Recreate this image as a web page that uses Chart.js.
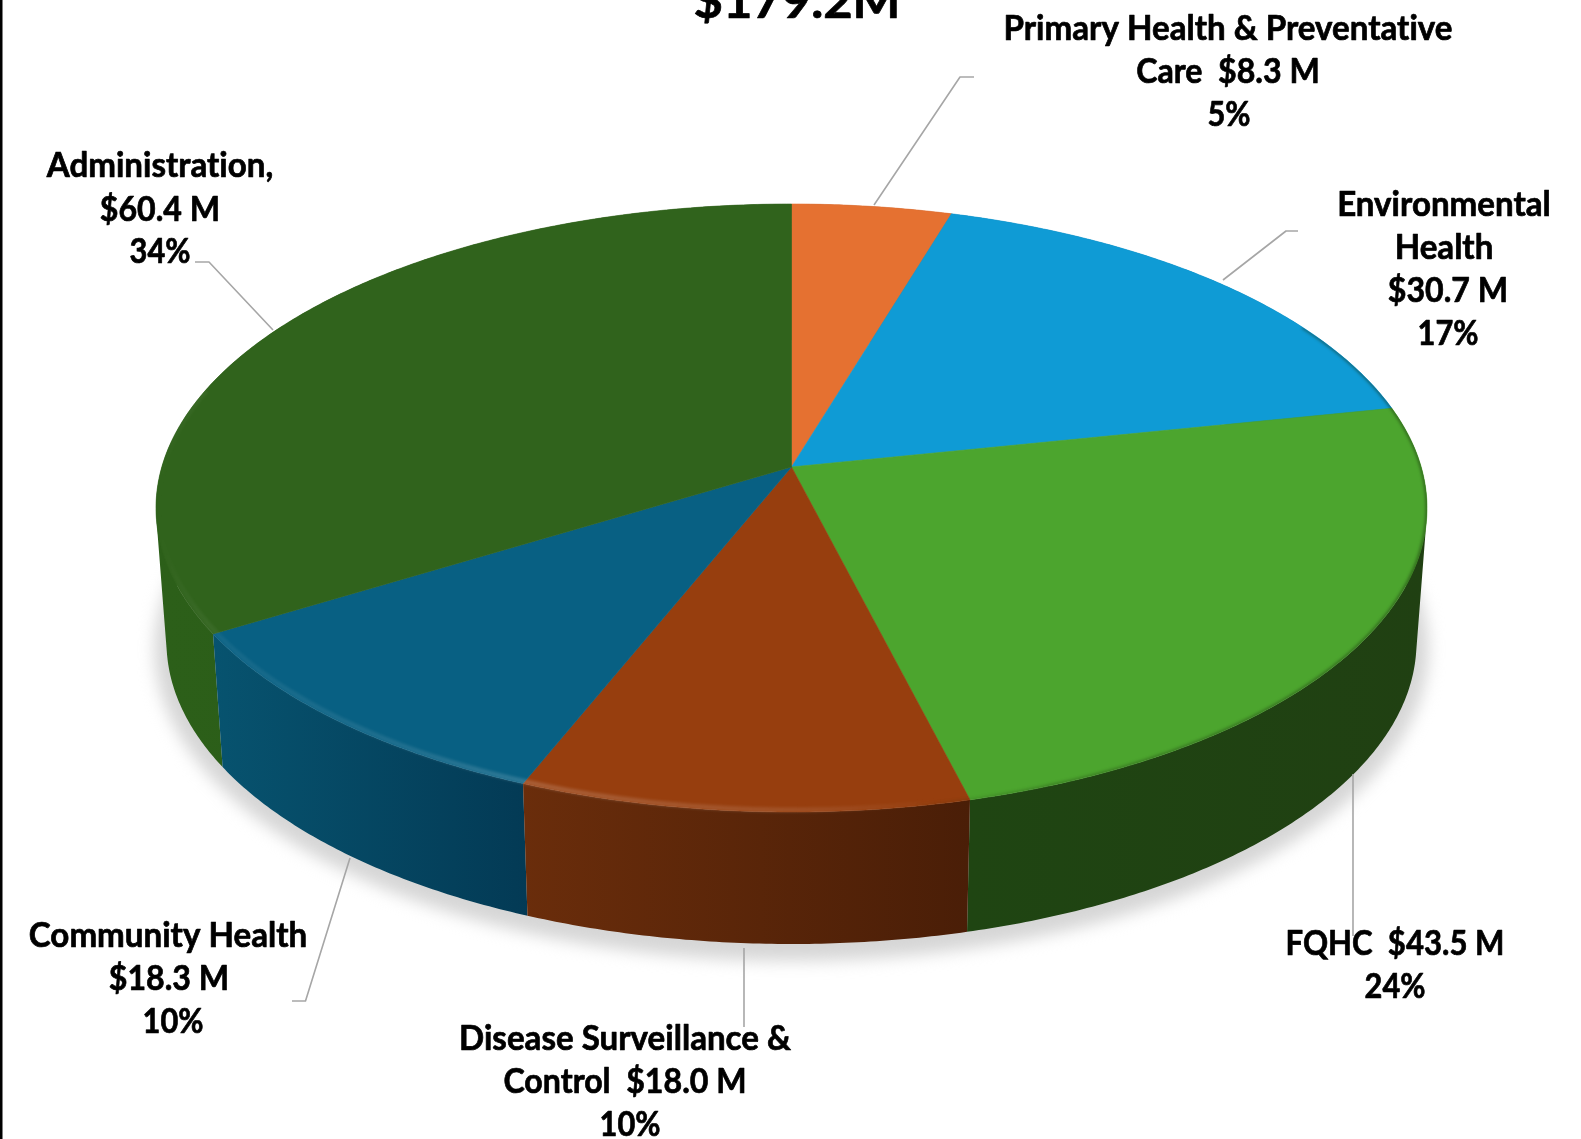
<!DOCTYPE html>
<html>
<head>
<meta charset="utf-8">
<style>html,body{margin:0;padding:0;background:#fff;overflow:hidden}canvas{display:block}</style>
<script src="https://cdn.jsdelivr.net/npm/chart.js@4"></script>
</head>
<body>
<div style="width:1581px;height:1139px;position:relative"><canvas id="c"></canvas></div>
<script>
const categories = ["Primary Health & Preventative Care","Environmental Health","FQHC","Disease Surveillance & Control","Community Health","Administration"];
const amounts = [8.3,30.7,43.5,18.0,18.3,60.4];
const topColors = ["#e57131","#0f9bd5","#4ca52e","#973e0e","#086083","#30631c"];
const wallLeft = ["#a0501f","#0a6c95","#1f4512","#6a2d0b","#07536f","#2c5f19"];
const wallRight = ["#a0501f","#0a6c95","#204012","#4a1e07","#033a55","#2a5a17"];
const title = "$179.2M";
const labelLines = [
 ["Primary Health & Preventative","Care  $8.3 M","5%"],
 ["Environmental","Health","$30.7 M","17%"],
 ["FQHC  $43.5 M","24%"],
 ["Disease Surveillance &","Control  $18.0 M","10%"],
 ["Community Health","$18.3 M","10%"],
 ["Administration,","$60.4 M","34%"]
];
const labelCx = [[1228,1228,1229],[1444,1444,1448,1448],[1395,1395],[625,625,630],[168,169,173],[160,160,160]];
const labelBase = [[40,83,126],[216,259,302,345],[955,998],[1050,1093,1136],[947,990,1033],[177,221,263]];
const leaders = [
 [[874,205],[960,77],[974,77]],
 [[1223,280],[1286,231],[1298,231]],
 [[1353,774],[1353,936]],
 [[744,948],[744,1027]],
 [[350,858],[305.5,1001],[292,1001]],
 [[273,330],[209,262],[195,262]]
];
// Projection of the flat pie: ratios to the library's outer radius
const RX = 635.5/508, RY = 304/508, TILT = -0.135;
const BX = 625/508, BY = 302/508, BDY = 134/508;
function proj(el, theta, base){
  const R = el.outerRadius, u = Math.sin(theta), v = -Math.cos(theta);
  const d = 1 + TILT*v, Y = (v+TILT)/d, X = u*Math.sqrt(1-TILT*TILT)/d;
  return base ? [el.x + X*BX*R, el.y + BDY*R + Y*BY*R]
              : [el.x + X*RX*R, el.y + Y*RY*R];
}
function arcPts(el, base){
  const a = el.startAngle + Math.PI/2, b = el.endAngle + Math.PI/2, pts = [];
  const n = Math.max(2, Math.ceil((b-a)/(Math.PI/360)));
  for(let i=0;i<=n;i++){ pts.push(proj(el,a+(b-a)*i/n,base)); }
  return pts;
}
function trace(ctx, pts){ pts.forEach((p,i)=> i?ctx.lineTo(p[0],p[1]):ctx.moveTo(p[0],p[1])); }
function lineScale(s){ return s.endsWith('%')?0.93 : s.startsWith('FQHC')?0.94 : s.includes('$')?0.97 : 1; }
const pie3d = {
  id:'pie3d',
  beforeDraw(chart){
    const ctx=chart.ctx; ctx.fillStyle='#000'; ctx.fillRect(0,0,2.5,chart.height);
  },
  beforeDatasetsDraw(chart){
    const ctx=chart.ctx, els=chart.getDatasetMeta(0).data, e0=els[0], R=e0.outerRadius;
    // soft ground shadow
    ctx.save(); ctx.filter='blur(8px)'; ctx.fillStyle='#d6d6d6'; ctx.beginPath();
    ctx.ellipse(e0.x, e0.y+BDY*R+7, BX*R+12, BY*R+10, 0, 0, Math.PI*2); ctx.fill(); ctx.restore();
    // side walls, as strips between the top rim and the bottom rim
    [0,1,5,2,4,3].forEach(i=>{
      const el=els[i], bot=arcPts(el,true), top=arcPts(el,false);
      const xs=bot.concat(top).map(p=>p[0]);
      const g=ctx.createLinearGradient(Math.min(...xs),0,Math.max(...xs),0);
      g.addColorStop(0,wallLeft[i]); g.addColorStop(1,wallRight[i]);
      ctx.fillStyle=g;
      ctx.beginPath();
      for(let k=0;k<bot.length-1;k++){
        // keep each strip wound the same way so the single fill has no seams
        let q=[top[k],top[k+1],bot[k+1],bot[k]];
        let area=0; q.forEach((p,m)=>{const n=q[(m+1)%4]; area+=p[0]*n[1]-n[0]*p[1];});
        if(area<0) q=q.reverse();
        q.forEach((p,m)=> m?ctx.lineTo(p[0],p[1]):ctx.moveTo(p[0],p[1]));
        ctx.closePath();
      }
      ctx.fill('nonzero');
    });
  },
  beforeDatasetDraw(){ return false; },
  afterDatasetsDraw(chart){
    const ctx=chart.ctx, els=chart.getDatasetMeta(0).data, e0=els[0], R=e0.outerRadius;
    // top faces, taken from the library's arc elements
    els.forEach(el=>{
      const pts=arcPts(el,false);
      const cx=el.x, cy=el.y+TILT*RY*R;
      ctx.beginPath(); ctx.moveTo(cx,cy); pts.forEach(p=>ctx.lineTo(p[0],p[1])); ctx.closePath();
      ctx.fillStyle=el.options.backgroundColor; ctx.fill();
      ctx.strokeStyle=el.options.backgroundColor; ctx.lineWidth=0.6; ctx.lineJoin='round'; ctx.stroke();
    });
    // bevel along the front rim
    const full=[]; for(let d=0;d<=720;d++) full.push(proj(e0,d*Math.PI/360,false));
    ctx.save();
    ctx.filter='blur(1.8px)';
    const gLight=ctx.createLinearGradient(e0.x-RX*R,0,e0.x+RX*R,0);
    gLight.addColorStop(0,'rgba(255,255,255,0)');
    gLight.addColorStop(0.04,'rgba(255,255,255,0.05)');
    gLight.addColorStop(0.2,'rgba(255,255,255,0.1)');
    gLight.addColorStop(0.3,'rgba(255,255,255,0.17)');
    gLight.addColorStop(0.5,'rgba(255,255,255,0.1)');
    gLight.addColorStop(0.62,'rgba(255,255,255,0.0)');
    gLight.addColorStop(1,'rgba(255,255,255,0)');
    const front=[]; for(let d=130;d<=285;d++){
      const p=proj(e0,d*Math.PI/180,false);
      front.push([p[0]+(e0.x-p[0])*0.004, p[1]-2]);
    }
    ctx.beginPath(); trace(ctx,front); ctx.lineWidth=5; ctx.strokeStyle=gLight; ctx.stroke();
    ctx.restore();
    ctx.save(); ctx.beginPath(); trace(ctx,full); ctx.closePath(); ctx.clip();
    ctx.filter='blur(1.4px)';
    const gDark=ctx.createLinearGradient(e0.x+100,0,e0.x+RX*R,0);
    gDark.addColorStop(0,'rgba(20,40,10,0)');
    gDark.addColorStop(0.3,'rgba(20,40,10,0.3)');
    gDark.addColorStop(1,'rgba(20,40,10,0.5)');
    const right=[]; for(let d=60;d<=170;d++) right.push(proj(e0,d*Math.PI/180,false));
    ctx.beginPath(); trace(ctx,right); ctx.lineWidth=3; ctx.strokeStyle=gDark; ctx.stroke();
    ctx.restore();
    // leader lines
    ctx.save(); ctx.strokeStyle='#a6a6a6'; ctx.lineWidth=1.6;
    leaders.forEach(l=>{ ctx.beginPath(); trace(ctx,l); ctx.stroke(); });
    ctx.restore();
    // text
    ctx.save(); ctx.fillStyle='#000'; ctx.strokeStyle='#000'; ctx.lineWidth=0.7;
    ctx.textAlign='center'; ctx.textBaseline='alphabetic'; ctx.letterSpacing='0.01px';
    ctx.font='bold 34px Lato';
    const sx=449/ctx.measureText(labelLines[0][0]).width;
    labelLines.forEach((lines,i)=>lines.forEach((s,j)=>{
      ctx.save(); ctx.translate(labelCx[i][j],labelBase[i][j]); ctx.scale(sx*lineScale(s),1);
      ctx.fillText(s,0,0); ctx.strokeText(s,0,0); ctx.restore();
    }));
    ctx.font='bold 48px Lato';
    ctx.save(); ctx.translate(797,18); ctx.scale(207/ctx.measureText(title).width,1); ctx.fillText(title,0,0); ctx.strokeText(title,0,0); ctx.restore();
    ctx.restore();
  }
};
new Chart(document.getElementById('c'),{
  type:'pie',
  plugins:[pie3d],
  data:{labels:categories,datasets:[{data:amounts,backgroundColor:topColors,borderWidth:0}]},
  options:{
    responsive:true,maintainAspectRatio:false,animation:false,
    layout:{padding:{left:2,bottom:123}},
    plugins:{legend:{display:false},tooltip:{enabled:false},title:{display:false}}
  }
});
</script>
</body>
</html>
